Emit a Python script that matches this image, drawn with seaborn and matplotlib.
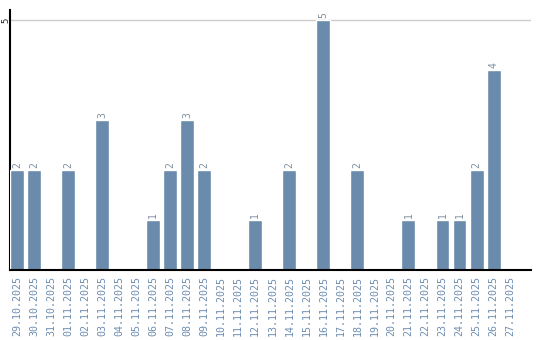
import matplotlib
matplotlib.use("Agg")
import matplotlib.pyplot as plt
import seaborn as sns
import pandas as pd

dates = ["29.10.2025", "30.10.2025", "31.10.2025", "01.11.2025", "02.11.2025",
         "03.11.2025", "04.11.2025", "05.11.2025", "06.11.2025", "07.11.2025",
         "08.11.2025", "09.11.2025", "10.11.2025", "11.11.2025", "12.11.2025",
         "13.11.2025", "14.11.2025", "15.11.2025", "16.11.2025", "17.11.2025",
         "18.11.2025", "19.11.2025", "20.11.2025", "21.11.2025", "22.11.2025",
         "23.11.2025", "24.11.2025", "25.11.2025", "26.11.2025", "27.11.2025"]
counts = [2, 2, 0, 2, 0, 3, 0, 0, 1, 2, 3, 2, 0, 0, 1, 0, 2, 0, 5, 0,
          2, 0, 0, 1, 0, 1, 1, 2, 4, 0]
yticks = [5]

df = pd.DataFrame({"date": dates, "count": counts})

sns.set_style("white")
plt.rcParams['font.family'] = ['DejaVu Sans Mono', 'DejaVu Sans']

bar_color = "#6a8bab"
label_color = "#6d8db0"

fig = plt.figure(figsize=(5.4, 3.4), dpi=100)
ax = fig.add_axes([10/540, 70/340, 521/540, 260/340])

sns.barplot(data=df, x="date", y="count", color=bar_color, width=0.82,
            saturation=1, ax=ax, zorder=3)

ax.set_xlim(-0.41, 30.2)
ax.set_ylim(0, 5.2)
ax.set_yticks(yticks)
ax.set_yticklabels([str(t) for t in yticks], rotation=90, va="center",
                   ha="center", fontsize=6.5, color="#222222")
ax.tick_params(axis="y", length=0, pad=3)
ax.tick_params(axis="x", length=0, pad=4)
ax.set_xticks(range(len(dates)))
ax.set_xticklabels(dates, rotation=90, fontsize=7.2, color=label_color, va="top")
ax.set_xlabel("")
ax.set_ylabel("")
ax.grid(axis="y", color="#cccccc", linewidth=1, zorder=0)

for s in ["top", "right"]:
    ax.spines[s].set_visible(False)
for s in ["left", "bottom"]:
    ax.spines[s].set_color("black")
    ax.spines[s].set_linewidth(1.5)
ax.spines["bottom"].set_zorder(5)

for i, v in enumerate(counts):
    if v > 0:
        ax.text(i, v + 0.04, str(v), rotation=90, ha="center", va="bottom",
                fontsize=7, color="#7f8fa0")

fig.savefig("out.png", dpi=100)
